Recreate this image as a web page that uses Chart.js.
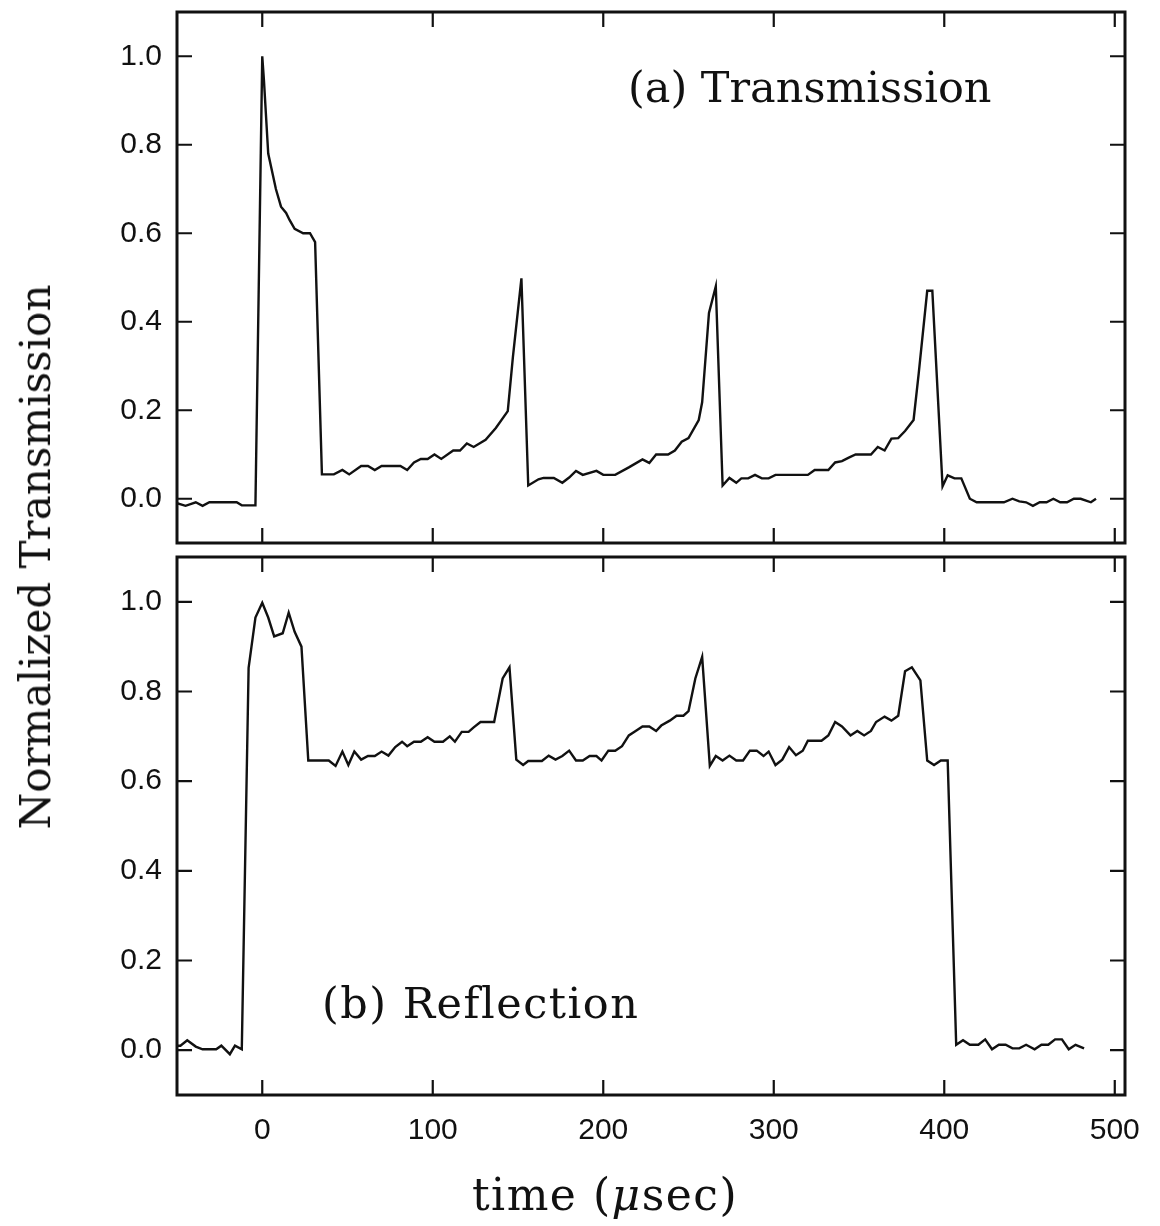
<!DOCTYPE html>
<html>
<head>
<meta charset="utf-8">
<script src="https://cdn.jsdelivr.net/npm/chart.js@4.4.1/dist/chart.umd.min.js"></script>
<style>
  html, body { margin: 0; padding: 0; background: #fff; }
  body { width: 1160px; height: 1226px; position: relative; overflow: hidden; }
  .panel { position: absolute; left: 0; width: 1160px; }
  #panelA { top: 0; height: 560px; }
  #panelB { top: 545px; height: 681px; }
  .lbl { position: absolute; font-family: "DejaVu Serif", serif; font-size: 43px; color: #111; white-space: nowrap; line-height: 50px; }
  #ytitle { left: 36px; top: 557px; font-size: 42px; transform: translate(-50%, -50%) rotate(-90deg); }
  #xtitle { left: 605px; top: 1195px; font-size: 44px; letter-spacing: 1.5px; transform: translate(-50%, -50%); }
  #noteA { left: 628px; top: 62px; }
  #noteB { left: 322px; top: 978px; letter-spacing: 1.5px; }
</style>
</head>
<body>
<div class="panel" id="panelA"><canvas id="chartA" width="1160" height="560"></canvas></div>
<div class="panel" id="panelB"><canvas id="chartB" width="1160" height="681"></canvas></div>
<div class="lbl" id="ytitle">Normalized Transmission</div>
<div class="lbl" id="xtitle">time (<i>μ</i>sec)</div>
<div class="lbl" id="noteA">(a) Transmission</div>
<div class="lbl" id="noteB">(b) Reflection</div>
<script>
// axis setup
const xTicks = [0, 100, 200, 300, 400, 500];
const yTicks = [0.0, 0.2, 0.4, 0.6, 0.8, 1.0];

// (a) transmission, time in usec
const transTime = [
  -50, -45, -39, -35, -31, -15, -12, -4, 0, 1, 3.5, 8, 11, 14, 16, 19, 24, 28, 31, 35,
  42, 47, 51, 58, 62, 66, 70, 81, 85, 89, 93, 97, 101, 105, 112, 116, 120, 124, 131, 137,
  144, 147, 152, 156, 162, 165, 171, 176, 180, 184, 188, 196, 200, 207, 215, 223, 227, 231, 238, 242,
  246, 250, 256, 258, 262, 266, 270, 274, 278, 281, 285, 289, 293, 297, 301, 320, 324, 332, 336, 340,
  344, 348, 357, 361, 365, 369, 373, 377, 382, 385, 390, 393, 399, 402, 406, 410, 415, 419, 435, 440,
  444, 448, 452, 456, 460, 464, 468, 472, 476, 480, 486, 489
];
const transValue = [
  -0.010, -0.016, -0.008, -0.016, -0.008, -0.008, -0.015, -0.015, 1.000, 0.945, 0.780, 0.700, 0.660, 0.646, 0.630, 0.610, 0.600, 0.600, 0.580, 0.055,
  0.055, 0.065, 0.055, 0.074, 0.074, 0.065, 0.074, 0.074, 0.065, 0.082, 0.090, 0.090, 0.100, 0.090, 0.109, 0.109, 0.125, 0.117, 0.133, 0.160,
  0.198, 0.320, 0.498, 0.030, 0.044, 0.047, 0.047, 0.036, 0.048, 0.063, 0.054, 0.063, 0.054, 0.054, 0.071, 0.089, 0.081, 0.100, 0.100, 0.109,
  0.129, 0.137, 0.178, 0.218, 0.420, 0.480, 0.030, 0.047, 0.036, 0.046, 0.046, 0.054, 0.046, 0.046, 0.054, 0.054, 0.065, 0.065, 0.082, 0.085,
  0.093, 0.100, 0.100, 0.117, 0.109, 0.136, 0.137, 0.153, 0.178, 0.283, 0.470, 0.470, 0.028, 0.053, 0.046, 0.046, 0.000, -0.008, -0.008, 0.000,
  -0.006, -0.008, -0.016, -0.008, -0.008, 0.000, -0.008, -0.008, 0.000, 0.000, -0.008, 0.000
];

// (b) reflection
const reflTime = [
  -50, -48, -44, -39, -35, -27, -24, -19, -16, -12, -8, -4, 0, 3.5, 7, 12, 15.5, 19, 23, 27,
  39, 43, 47, 50.5, 54, 58, 62, 66, 70, 74, 78, 82, 85, 89, 93, 97, 101, 106, 110, 113,
  117, 121, 124, 128, 136, 141, 145, 149, 153, 156, 164, 168, 172, 176, 180, 184, 188, 192, 196, 199,
  203, 207, 211, 215, 219, 223, 227, 231, 234, 239, 243, 247, 250, 254, 258, 262.5, 266, 270, 274, 278,
  282, 286, 290, 294, 297, 301, 305, 309, 313, 317, 320, 328, 332, 336, 340, 345, 349, 353, 357, 360,
  365, 369, 373, 377, 381, 386, 390, 394, 398, 402, 407, 411, 415, 420, 424, 428, 432, 436, 440, 444,
  448, 453, 457, 461, 465, 469, 473, 477, 482
];
const reflValue = [
  0.010, 0.010, 0.022, 0.008, 0.002, 0.002, 0.010, -0.009, 0.010, 0.002, 0.853, 0.965, 0.998, 0.965, 0.923, 0.930, 0.976, 0.933, 0.900, 0.646,
  0.646, 0.634, 0.666, 0.636, 0.666, 0.648, 0.656, 0.656, 0.666, 0.657, 0.676, 0.688, 0.678, 0.688, 0.688, 0.698, 0.688, 0.688, 0.700, 0.688,
  0.710, 0.710, 0.720, 0.732, 0.732, 0.829, 0.854, 0.648, 0.636, 0.645, 0.645, 0.657, 0.648, 0.656, 0.668, 0.646, 0.646, 0.656, 0.656, 0.646,
  0.668, 0.668, 0.678, 0.702, 0.712, 0.722, 0.722, 0.712, 0.724, 0.735, 0.746, 0.746, 0.756, 0.829, 0.877, 0.634, 0.656, 0.646, 0.657, 0.646,
  0.646, 0.668, 0.668, 0.656, 0.666, 0.636, 0.648, 0.676, 0.658, 0.668, 0.690, 0.690, 0.702, 0.732, 0.722, 0.702, 0.712, 0.702, 0.712, 0.732,
  0.744, 0.735, 0.746, 0.845, 0.854, 0.825, 0.646, 0.636, 0.646, 0.646, 0.012, 0.022, 0.012, 0.012, 0.024, 0.002, 0.012, 0.012, 0.004, 0.004,
  0.012, 0.002, 0.012, 0.012, 0.024, 0.024, 0.002, 0.012, 0.004
];

const INK = '#111';
const TICK = 15;
const tickFont = { family: "'Liberation Sans', Arial, sans-serif", size: 30 };

// box around the plot with inward tick marks on all four sides
const framePlugin = {
  id: 'frame',
  afterDatasetsDraw(chart) {
    const { ctx, chartArea: a, scales } = chart;
    const x = scales.x, y = scales.y;
    ctx.save();
    ctx.strokeStyle = INK;
    ctx.lineWidth = 3;
    ctx.strokeRect(a.left, a.top, a.right - a.left, a.bottom - a.top);
    ctx.lineWidth = 2.2;
    ctx.beginPath();
    xTicks.forEach(v => {
      const px = x.getPixelForValue(v);
      if (px <= a.left || px >= a.right) return;
      ctx.moveTo(px, a.top); ctx.lineTo(px, a.top + TICK);
      ctx.moveTo(px, a.bottom); ctx.lineTo(px, a.bottom - TICK);
    });
    yTicks.forEach(v => {
      const py = y.getPixelForValue(v);
      ctx.moveTo(a.left, py); ctx.lineTo(a.left + TICK, py);
      ctx.moveTo(a.right, py); ctx.lineTo(a.right - TICK, py);
    });
    ctx.stroke();
    ctx.restore();
  }
};

function makePanel(canvasId, times, values, showX, padBottom) {
  return new Chart(document.getElementById(canvasId), {
    type: 'line',
    data: {
      datasets: [{
        data: times.map((t, i) => ({ x: t, y: values[i] })),
        borderColor: INK,
        borderWidth: 2.4,
        pointRadius: 0,
        tension: 0,
        fill: false,
      }]
    },
    options: {
      responsive: false,
      animation: false,
      layout: { padding: { top: 12, right: 35, bottom: padBottom, left: 0 } },
      plugins: { legend: { display: false }, tooltip: { enabled: false } },
      scales: {
        x: {
          type: 'linear',
          min: -50,
          max: 506,
          display: showX,
          afterBuildTicks: s => { s.ticks = xTicks.map(v => ({ value: v })); },
          afterFit: s => {
            s.height = showX ? 131 : 0;
            s.paddingLeft = 0; s.paddingRight = 0;
          },
          grid: { display: false, drawTicks: false },
          border: { display: false },
          ticks: { font: tickFont, color: INK, padding: 18, maxRotation: 0, autoSkip: false, callback: v => String(v) },
        },
        y: {
          min: -0.1,
          max: 1.1,
          afterBuildTicks: s => { s.ticks = yTicks.map(v => ({ value: v })); },
          afterFit: s => {
            s.width = 177;
            s.paddingTop = 0; s.paddingBottom = 0;
          },
          grid: { display: false, drawTicks: false },
          border: { display: false },
          ticks: { font: tickFont, color: INK, padding: 15, callback: v => Number(v).toFixed(1) },
        }
      }
    },
    plugins: [framePlugin]
  });
}

makePanel('chartA', transTime, transValue, false, 17);
makePanel('chartB', reflTime, reflValue, true, 0);
</script>
</body>
</html>
